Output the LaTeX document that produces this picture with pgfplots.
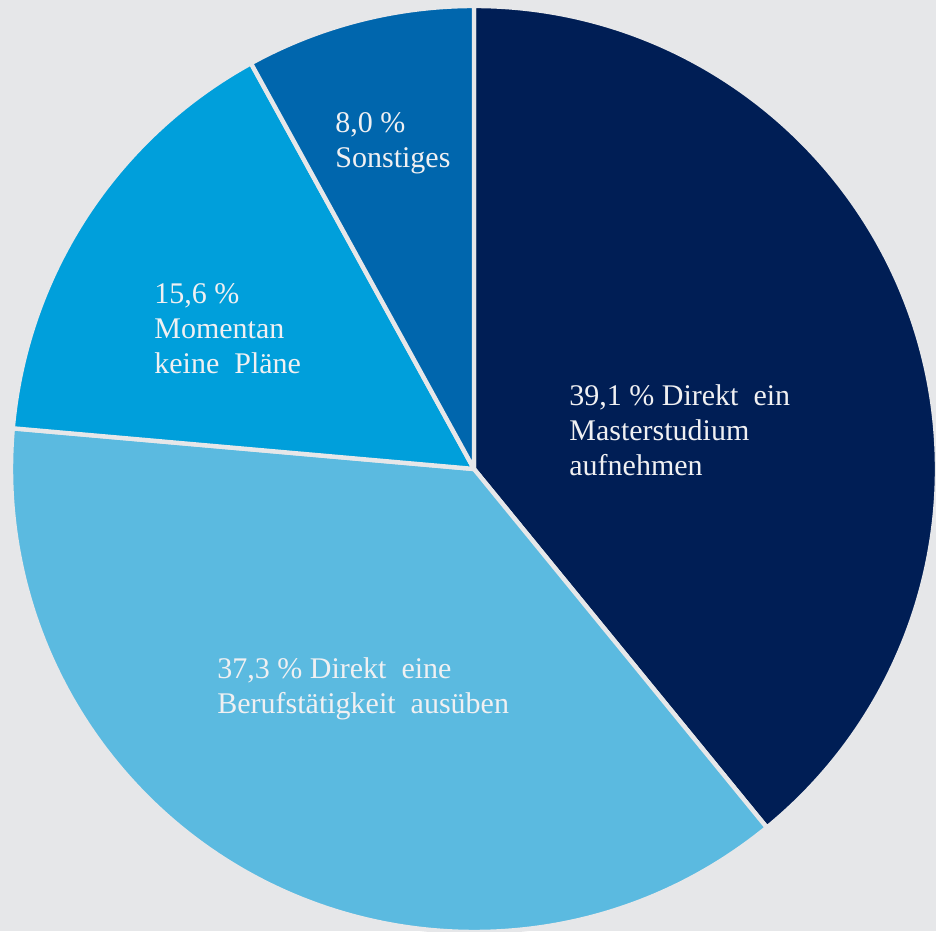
\documentclass[border=0pt]{standalone}
\usepackage{pgfplots}
\pgfplotsset{compat=1.18}
\usepackage{pgfplotstable}
\usepackage{fontspec}
\setmainfont{Liberation Serif}

\definecolor{bg}{HTML}{E6E7E9}
\definecolor{c1}{HTML}{001E55}
\definecolor{c2}{HTML}{5BBAE0}
\definecolor{c3}{HTML}{009FDB}
\definecolor{c4}{HTML}{0066AD}
\definecolor{txt}{HTML}{F0F0F2}

\pgfplotstableread{
value col
39.1 c1
37.3 c2
15.6 c3
8.0 c4
}\piedata

\tikzset{lbl/.style={font=\fontsize{15}{17.5}\selectfont, text=txt, align=left, anchor=north west, inner sep=0pt}}

\begin{document}
\begin{tikzpicture}
\begin{axis}[
  x=0.5pt, y=0.5pt,
  xmin=0, xmax=936, ymin=0, ymax=931,
  hide axis, clip=true,
]
\fill[bg] (axis cs:0,0) rectangle (axis cs:936,931);
\def\cum{0}
\pgfplotsforeachungrouped \k in {0,...,3} {%
  \pgfplotstablegetelem{\k}{value}\of\piedata \let\v\pgfplotsretval
  \pgfplotstablegetelem{\k}{col}\of\piedata \let\c\pgfplotsretval
  \pgfmathsetmacro\sa{90-\cum*3.6}%
  \pgfmathsetmacro\ea{90-(\cum+\v)*3.6}%
  \edef\temp{\noexpand\fill[\c, draw=bg, line width=2.2pt, line join=round] (axis cs:474,462) -- ++(\sa:231.5pt) arc[start angle=\sa, end angle=\ea, radius=231.5pt] -- cycle;}%
  \temp
  \pgfmathsetmacro\cum{\cum+\v}%
}
\node[lbl] at (axis cs:569,547) {39,1 \% Direkt\ \ ein\\Masterstudium\\aufnehmen};
\node[lbl] at (axis cs:217,273.5) {37,3 \% Direkt\ \ eine\\Berufstätigkeit\ \ ausüben};
\node[lbl] at (axis cs:154,648) {15,6 \%\\Momentan\\keine\ \ Pläne};
\node[lbl] at (axis cs:335,819) {8,0 \%\\Sonstiges};
\end{axis}
\end{tikzpicture}
\end{document}
